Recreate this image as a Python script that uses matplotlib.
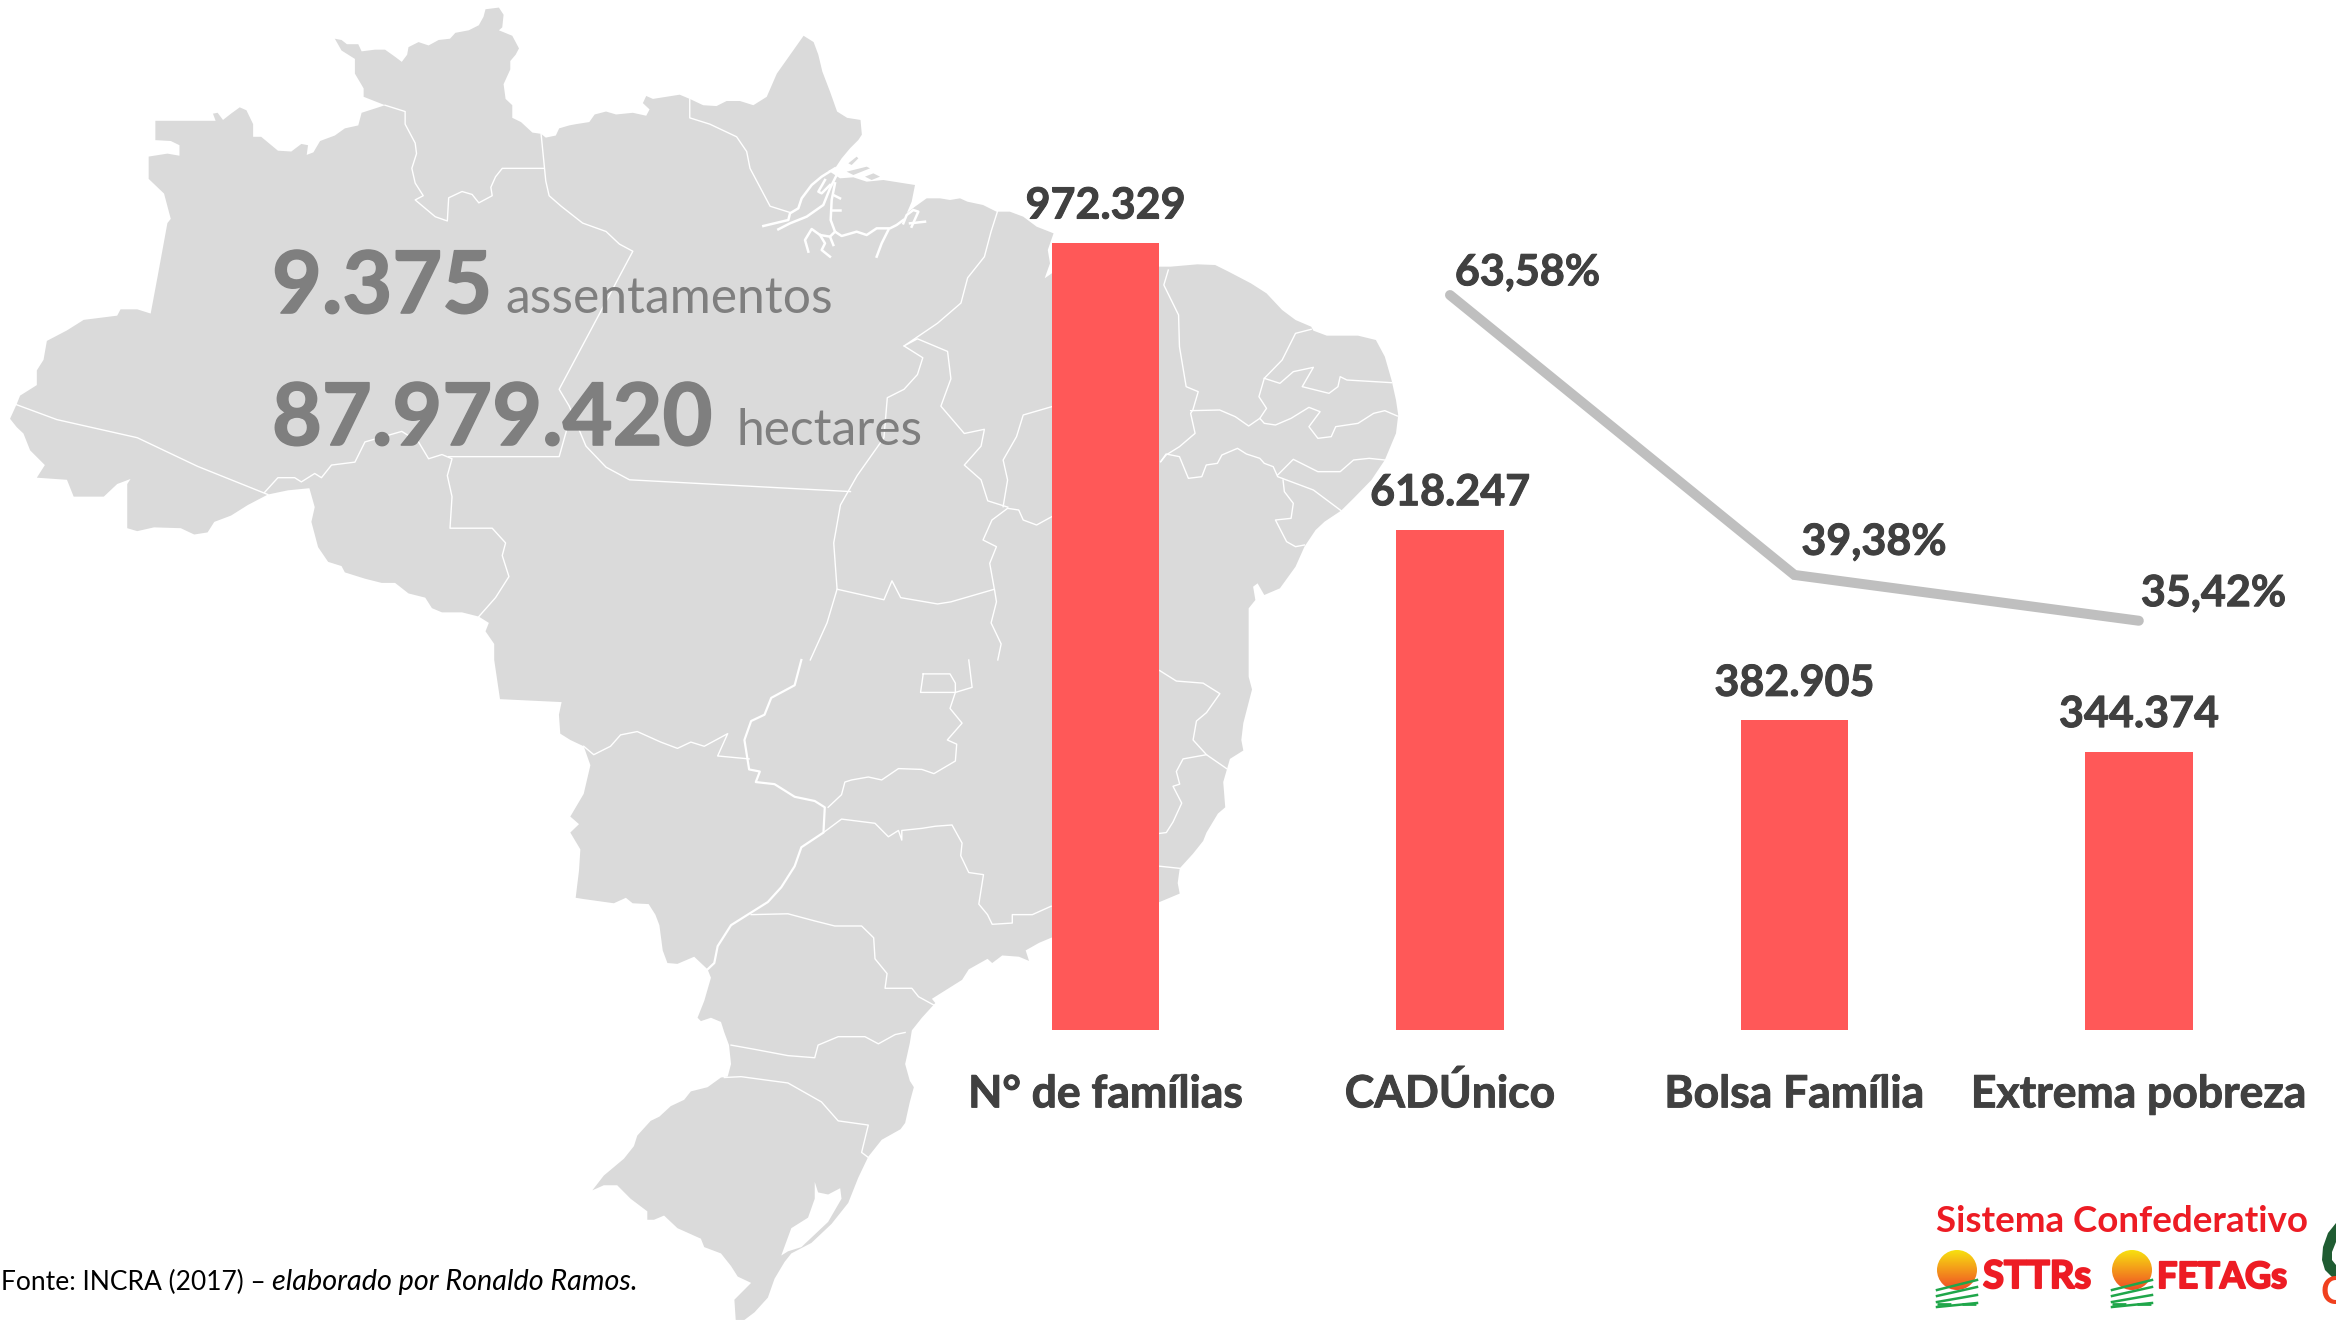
import numpy as np
import matplotlib
matplotlib.use("Agg")
import matplotlib.pyplot as plt
import matplotlib.patheffects as pe
from matplotlib.patches import Polygon, Circle

plt.rcParams['font.family'] = ['Lato', 'DejaVu Sans']

# chart values
categorias = ["N° de famílias", "CADÚnico", "Bolsa Família", "Extrema pobreza"]
familias = [972329, 618247, 382905, 344374]
familias_txt = ["972.329", "618.247", "382.905", "344.374"]
percentuais = [63.58, 39.38, 35.42]
percentuais_txt = ["63,58%", "39,38%", "35,42%"]
percent_cat = [1, 2, 3]

# map outline, traced in different crops of the picture
costa_norte = [(232,287),(322,287),(318,270),(325,268),(333,285),(345,270),(358,255),(368,262),(378,295),(378,325),
    (390,325),(415,358),(435,360),(450,342),(460,345),(458,368),(468,362),(478,335),(500,322),(515,305),(535,298),
    (540,268),(575,250),(543,230),(543,210),(530,175),(530,140),(510,120),(500,92),(510,95),(518,105),(535,105),
    (540,122),(560,118),(575,118),(590,135),(600,147),(608,130),(610,112),(625,100),(640,108),(655,95),(672,92),
    (680,78),(700,72),(715,60),(722,40),(725,22),(745,18),(752,35),(750,65),(745,72),(765,85),(775,115),(770,130),
    (762,145),(762,165),(752,200),(755,235),(765,250),(765,280),(778,290),(795,315),(808,318),(815,327),(830,322),
    (835,305),(850,298),(860,295),(880,290),(888,272),(905,265),(920,272),(945,268),(965,275),(970,260),(960,245),
    (965,228),(975,235),(1015,225),(1030,235),(1050,250),(1070,252),(1085,240),(1105,240),(1125,250),(1145,230),
    (1160,175),(1180,130),(1200,85),(1215,100),(1222,130),(1228,170),(1240,220),(1250,265),(1265,280),(1285,285),
    (1287,320)]
costa_foz = [(355,30),(330,55),(305,85),(285,115),(265,122),(300,145),(340,142),(380,155),(430,150),(525,165),
    (515,215),(500,250),(525,230),(560,205),(600,205),(630,210),(660,205)]
costa_leste = [(375,95),(410,105),(440,125),(470,125),(500,140),
    (530,170),(568,190),(555,240),(560,280),(548,325),(564,310),(805,290),(830,290),(890,283),(930,285),(960,305),
    (1010,340),(1045,370),(1080,420),(1110,450),(1145,470),(1150,482),(1180,497),(1250,497),(1290,510),(1310,560),
    (1325,630),(1335,690),(1340,735),(1335,790),(1310,870),(1280,930),(1240,985),(1212,1022),(1175,1055),(1155,1080),
    (1130,1130),(1110,1190),(1075,1255),(1040,1275),(1025,1240),(1015,1250),(1020,1290),(1005,1315)]
costa_sul = [(1118,40),(1123,70),(1110,150),(1107,190),(1110,215),(1090,235),(1080,290),(1083,350),(1072,365),
    (1055,410),(1050,430),(1035,460),(1015,495),(1012,530),(1015,555),(985,575),(823,660),(805,672),(785,690),
    (790,715),(775,705),(750,702),(735,720),(728,710),(700,735),(690,760),(670,780),(645,805),(650,815),(630,850),
    (615,880),(612,910),(605,960),(612,1000),(618,1015),(612,1050),(605,1100),(598,1115),(570,1140),(550,1180),
    (535,1230),(520,1290),(495,1340),(465,1385),(435,1410),(425,1430),(410,1470),(400,1515),(380,1550),(365,1568),
    (352,1568),(350,1520),(375,1480),(355,1465),(345,1440),(330,1410),(305,1395),(300,1375),(265,1350),(245,1320),
    (230,1330),(220,1330),(220,1310),(195,1280),(175,1248),(155,1248),(138,1260),(155,1225),(185,1185),(200,1155),
    (205,1130),(225,1095),(238,1085),(255,1060),(275,1045),(285,1025),(310,1015),(330,992),(340,990),(345,960),
    (342,915),(335,885),(330,860),(315,850),(300,858),(295,850),(305,810),(315,755),(310,735),(290,705),(265,722),
    (250,720),(243,690),(238,630),(232,605),(222,580),(198,578),(188,565),(170,578),(125,568),(113,565),(118,500),
    (120,450),(105,410),(118,390),(105,372),(125,318),(135,250),(125,205),(105,190),(90,175),(88,130),(92,100),(0,93)]
costa_oeste = [(738,1568),(738,1530),(725,1500),(730,1480),(715,1465),(690,1455),(660,1455),(645,1445),(635,1420),
    (610,1410),(590,1385),(570,1385),(545,1375),(515,1360),(510,1345),(490,1335),(475,1300),(465,1240),(470,1205),
    (462,1160),(430,1165),(400,1175),(370,1200),(345,1225),(320,1240),(310,1265),(290,1270),(270,1255),(230,1253),
    (205,1262),(190,1255),(190,1150),(195,1138),(175,1150),(155,1180),(110,1180),(100,1140),(55,1135),(67,1105),
    (45,1070),(35,1030),(25,1015),(15,995),(25,960),(30,940),(55,915),(55,880),(65,855),(70,810),(100,785),(125,760),
    (175,750),(180,735),(205,735),(225,745),(235,660),(250,530),(255,520),(245,460),(222,425),(222,372),(250,365),
    (268,370),(268,345),(255,335),(232,333)]

# state borders, same crops
div_norte = [
    [(22,960),(85,997),(205,1040),(295,1108),(400,1175)],
    [(575,250),(605,265),(605,295),(620,340),(622,365),(615,400),(620,435),(632,465),(620,475),(650,515),(668,525),
     (670,470),(690,455),(705,462),(715,482),(735,465),(733,445),(740,420),(750,400),(812,400)],
    [(808,318),(815,430),(820,465),(838,490),(870,530),(905,550),(925,580),(945,597),(835,925),(850,965),(875,1060),
     (905,1110),(940,1140),(1270,1168)],
    [(850,1000),(835,1085),(670,1085)],
    [(395,1170),(415,1135),(440,1135),(450,1145),(470,1125),(480,1135),(495,1105),(530,1098),(545,1050),(600,1025),
     (625,1050),(640,1090),(660,1080),(675,1090),(668,1130),(675,1180),(672,1255),(735,1255),(755,1290),(750,1320),
     (760,1370),(740,1420),(715,1465)],
    [(1030,235),(1030,280),(1060,295),(1100,325),(1115,360),(1120,400),(1130,430),(1150,490),(1180,505)],
    [(1490,500),(1480,550),(1470,610),(1445,660),(1435,720),(1400,768),(1350,822),(1370,805),(1415,835),(1420,900),
     (1405,965),(1440,1030),(1470,1020),(1465,1060),(1440,1105),(1465,1140),(1475,1190),(1505,1205)],
    [(1350,822),(1378,850),(1370,890),(1350,925),(1325,945),(1320,1040),(1280,1130),(1255,1200),(1245,1290),(1250,1400),
     (1235,1480),(1210,1568)],
    [(1250,1400),(1320,1425),(1332,1380),(1345,1420),(1400,1435),(1420,1430),(1485,1400),(1488,1430),(1480,1480),
     (1495,1530),(1490,1568)],
]
div_foz = [
    [(285,115),(245,140),(215,165),(185,205),(175,235),(150,250),(145,270),(70,288)],
    [(290,135),(270,175),(250,225),(200,260),(150,280),(115,298)],
    [(255,150),(235,185),(245,190),(270,165)],
    [(285,160),(275,210),(272,270),(285,305),(305,318),(350,305),(380,315),(410,295),(450,295),(470,285),(490,270)],
    [(285,305),(270,320),(240,315),(215,297),(195,330),(205,365)],
    [(240,315),(255,340),(245,360),(270,380)],
    [(270,320),(280,345)],
    [(445,300),(425,340),(410,380)],
    [(280,195),(300,205)],
    [(275,240),(300,240)],
    [(490,280),(500,255),(520,240),(535,245),(515,290)],
    [(510,280),(555,275)],
]
ilhas_foz = [
    [(325,100),(350,80),(355,85),(335,105)],
    [(375,140),(400,130),(420,140),(395,150)],
    [(320,125),(380,110),(390,115),(340,135)],
]
div_leste = [
    [(465,1015),(430,1050),(410,1110),(440,1130),(425,1180),(435,1255)],
    [(465,1015),(490,1020),(500,1050),(530,1065),(564,1040)],
    [(564,710),(500,735),(485,800),(455,870),(465,930),(455,1010)],
    [(825,300),(815,345),(848,435),(850,530),(865,650),(892,665),(880,720),(875,730),(885,790),(850,830),(820,855),(808,875)],
    [(875,722),(940,720),(975,740),(1005,768),(1030,745),(1040,760),(1065,765),(1100,745),(1140,712),(1165,725),
     (1140,770),(1160,805),(1190,800),(1200,770),(1250,760),(1285,730),(1310,722),(1338,738)],
    [(1145,478),(1110,490),(1080,570),(1040,625),(1028,680),(1045,715),(1030,745)],
    [(1040,625),(1075,640),(1105,605),(1150,592),(1125,650),(1185,670),(1205,650),(1210,620),(1225,630),(1325,638)],
    [(808,875),(820,852),(850,860),(870,925),(900,920),(910,885),(935,880),(945,855),(980,835),(1000,852),(1030,865),
     (1040,880),(1060,890),(1070,920),(1080,925),(1150,960),(1212,1022)],
    [(1070,915),(1105,868),(1160,905),(1210,905),(1240,870),(1275,865),(1310,870)],
    [(1082,930),(1085,965),(1105,1000),(1100,1045),(1065,1050),(1090,1115),(1110,1130),(1130,1125)],
]
div_sul = [
    [(632,33),(672,33),(680,55),(680,77),(628,77),(632,33)],
    [(700,0),(705,65),(680,77),(672,115),(690,150),(668,190),(682,200),(680,240),(648,270),(630,260),(595,258),(570,285),
     (550,278),(525,285),(515,290),(510,320),(490,350)],
    [(450,0),(440,60),(405,90),(395,130),(375,145),(365,190),(372,260),(388,265),(382,290),(410,295),(440,325),(470,335),
     (485,350),(483,410),(450,445),(440,490),(420,540),(400,575),(375,600),(345,630),(325,680),(320,720),(310,735)],
    [(125,205),(140,225),(165,205),(180,178),(205,170),(240,195),(265,210),(285,195),(305,205),(340,175),(325,228),(372,235)],
    [(483,410),(510,378),(560,388),(580,420),(595,405),(600,428),(600,405),(630,400),(650,395),(675,392),(690,435),(688,465),
     (700,505),(722,510),(715,580),(728,605),(735,628),(765,625),(765,605),(795,605),(823,585)],
    [(375,605),(430,603),(470,620),(500,632),(540,632),(558,660),(560,710),(578,745),(575,780),(615,780),(625,800),(648,820)],
    [(345,915),(380,925),(430,940),(470,945),(475,915),(505,895),(545,895),(565,912),(590,890),(605,885)],
    [(335,992),(360,990),(430,1005),(480,1050),(505,1095),(550,1105),(540,1170),(550,1182)],
    [(985,490),(1015,495)],
    [(985,25),(1010,50),(1050,55),(1075,80),(1055,125),(1040,145),(1035,190),(1055,225),(1085,258)],
    [(1055,225),(1020,235),(1010,265),(1015,295),(1005,300),(1018,340),(1005,385),(995,410),(985,412)],
]
lagoa = [(470,1240),(475,1265),(490,1270),(508,1255),(510,1280),(490,1335),(470,1365),(450,1395),(430,1405),(420,1415),
    (435,1350),(460,1325),(470,1280)]

# crop -> full picture pixels
def de_norte(p):
    p = np.array(p, dtype=float)
    return np.c_[p[:,0]/1.4933, p[:,1]/2.376]

def de_foz(p):
    p = np.array(p, dtype=float)
    return np.c_[740 + p[:,0]/3.0, 130 + p[:,1]/3.0]

def de_leste(p):
    p = np.array(p, dtype=float)
    return np.c_[800 + p[:,0]/2.24, 170 + p[:,1]/3.0]

def de_sul(p):
    p = np.array(p, dtype=float)
    return np.c_[500 + p[:,0]/1.4933, 660 + p[:,1]/2.376]

W, H = 2336, 1320
fig = plt.figure(figsize=(W/100, H/100), dpi=100, facecolor='white')

# background layer in pixels: map, texts, logos
bg = fig.add_axes([0, 0, 1, 1])
bg.axis('off')

contorno = np.vstack([de_norte(costa_norte), de_foz(costa_foz), de_leste(costa_leste), de_sul(costa_sul), de_norte(costa_oeste)])
bg.add_patch(Polygon(contorno, closed=True, fc='#DADADA', ec='none', zorder=1))
for d in div_norte:
    q = de_norte(d)
    bg.plot(q[:,0], q[:,1], color='white', lw=1.0, zorder=2, solid_joinstyle='round')
for d in div_leste:
    q = de_leste(d)
    bg.plot(q[:,0], q[:,1], color='white', lw=1.0, zorder=2, solid_joinstyle='round')
for i, d in enumerate(div_sul):
    q = de_sul(d)
    bg.plot(q[:,0], q[:,1], color='white', lw=1.6 if i == 2 else 1.0, zorder=2, solid_joinstyle='round')
for d in div_foz:
    q = de_foz(d)
    bg.plot(q[:,0], q[:,1], color='white', lw=1.8, zorder=2, solid_joinstyle='round')
for d in ilhas_foz:
    bg.add_patch(Polygon(de_foz(d), closed=True, fc='#DADADA', ec='none', zorder=2))
bg.add_patch(Polygon(de_sul(lagoa), closed=True, fc='white', ec='none', zorder=2))

CINZA = '#7F7F7F'
ESCURO = '#404040'
grosso = [pe.withStroke(linewidth=0.7, foreground=ESCURO)]
bg.text(272, 313, "9.375", fontsize=62, fontweight='bold', color=CINZA, va='baseline', zorder=3,
        path_effects=[pe.withStroke(linewidth=1.2, foreground=CINZA)])
bg.text(505, 313, "assentamentos", fontsize=35.8, color=CINZA, va='baseline', zorder=3)
bg.text(272, 445, "87.979.420", fontsize=62, fontweight='bold', color=CINZA, va='baseline', zorder=3,
        path_effects=[pe.withStroke(linewidth=1.2, foreground=CINZA)])
bg.text(736, 445, "hectares", fontsize=35.7, color=CINZA, va='baseline', zorder=3)

bg.text(1, 1290, "Fonte: INCRA (2017) –", fontsize=19, color='black', va='baseline', zorder=3)
bg.text(272, 1290, "elaborado por Ronaldo Ramos.", fontsize=20.7, style='italic', color='black', va='baseline', zorder=3)

# logos
VERMELHO = '#ED1C24'
bg.text(1936, 1232, "Sistema Confederativo", fontsize=26.5, fontweight='bold', color=VERMELHO, va='baseline', zorder=3)
bg.text(1983, 1288, "STTRs", fontsize=27.5, fontweight='bold', color=VERMELHO, va='baseline', zorder=3,
        path_effects=[pe.withStroke(linewidth=1.5, foreground=VERMELHO)])
bg.text(2157, 1288, "FETAGs", fontsize=26, fontweight='bold', color=VERMELHO, va='baseline', zorder=3,
        path_effects=[pe.withStroke(linewidth=1.5, foreground=VERMELHO)])
grad = np.linspace(0, 1, 64)[:, None, None]
cor = (1-grad)*np.array([0.97, 0.88, 0.06]) + grad*np.array([0.94, 0.30, 0.15])
for cx in [1957, 2132]:
    im = bg.imshow(cor, extent=(cx-20, cx+20, 1290, 1250), aspect='auto', zorder=3)
    im.set_clip_path(Circle((cx, 1270), 20, transform=bg.transData))
    for dy, inc in [(20, -10), (26, -9), (32, -7), (37, -4)]:
        bg.plot([cx-20, cx+20], [1270+dy, 1270+dy+inc], color='#1FA64A', lw=1.8, zorder=3)
    bg.plot([cx-20, cx+20], [1304, 1304], color='#1FA64A', lw=2, ls=(0, (5, 4)), zorder=3)
bg.add_patch(Polygon([(2336,1223),(2328,1233),(2323,1247),(2322,1260),(2325,1270),(2332,1277),(2336,1277),
                      (2336,1265),(2332,1260),(2332,1252),(2336,1242)], closed=True, fc='#1F5C32', ec='none', zorder=3))
bg.text(2321, 1304, "C", fontsize=27, fontweight='bold', color='#F0401E', va='baseline', zorder=3)

bg.set_xlim(0, W)
bg.set_ylim(H, 0)

# bars, the axes sit exactly on the drawing area of the original
x = np.arange(len(categorias))
ax = fig.add_axes([933.4/W, 1-1030.4/H, 1377.6/W, 787.4/H])
ax.patch.set_alpha(0)
ax.bar(x, familias, width=0.3125, color='#FF5858', zorder=3)
ax.set_xlim(-0.5, 3.5)
ax.set_ylim(0, 972329)
for s in ax.spines.values():
    s.set_visible(False)
ax.set_yticks([])
ax.set_xticks(x)
ax.set_xticklabels(categorias, fontsize=32, fontweight='bold', color=ESCURO, va='baseline', path_effects=grosso)
ax.tick_params(axis='x', length=0, pad=55.4)
for i in range(len(x)):
    ax.annotate(familias_txt[i], (x[i], familias[i]), xytext=(0, 17.6), textcoords='offset points',
                ha='center', va='baseline', fontsize=31, fontweight='bold', color=ESCURO, annotation_clip=False,
                path_effects=grosso)

# percent line on secondary scale
ax2 = ax.twinx()
ax2.plot(percent_cat, percentuais, color='#BFBFBF', lw=7.2, solid_capstyle='round', solid_joinstyle='miter', zorder=4)
ax2.set_ylim(0, 68.08)
ax2.set_yticks([])
for s in ax2.spines.values():
    s.set_visible(False)
offs = [(3.5, 7), (5, 14.5), (1.5, 10.5)]
for i in range(len(percentuais)):
    ax2.annotate(percentuais_txt[i], (percent_cat[i], percentuais[i]), xytext=offs[i], textcoords='offset points',
                 ha='left', va='baseline', fontsize=31, fontweight='bold', color=ESCURO, annotation_clip=False,
                 path_effects=grosso)

fig.savefig('out.png', dpi=100)
